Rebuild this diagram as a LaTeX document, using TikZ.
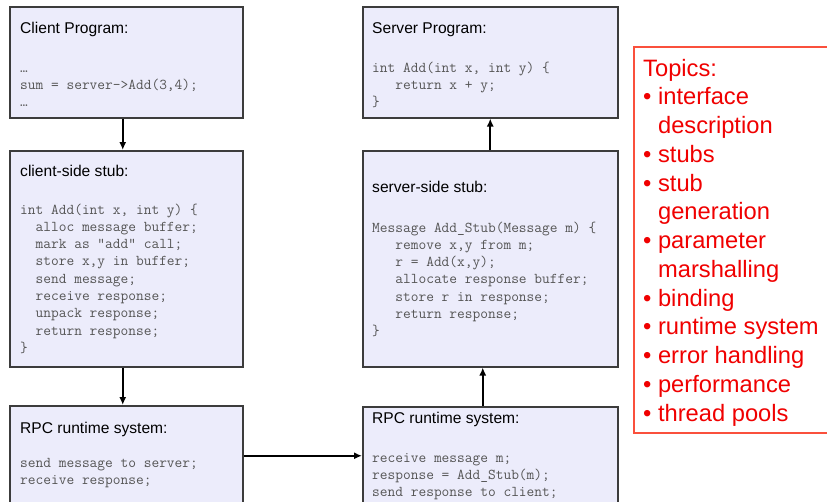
\documentclass[tikz,border=0pt]{standalone}
\usepackage{fontspec}
\setmainfont{Liberation Sans}
\usetikzlibrary{arrows.meta}
\definecolor{boxfill}{RGB}{236,236,251}
\definecolor{boxedge}{RGB}{60,60,60}
\definecolor{codegray}{RGB}{85,85,85}
\definecolor{topicred}{RGB}{240,0,0}
\definecolor{topicedge}{RGB}{250,80,60}
\tikzset{
  box/.style={draw=boxedge, fill=boxfill, line width=1.5pt, anchor=north west, inner sep=0pt},
  title/.style={anchor=base west, inner sep=0pt, font=\fontsize{15.6}{18}\selectfont},
  % base of a code block = baseline of its last line
  code/.style={anchor=base west, inner sep=0pt, align=left, text=codegray,
    font=\ttfamily\fontsize{15}{17.3}\selectfont},
}
\begin{document}
\begin{tikzpicture}[x=1pt,y=-1pt]
  \useasboundingbox (0,0) rectangle (827,501);
  % client side
  \node[box, minimum width=233pt, minimum height=111pt] (cprog) at (9,6) {};
  \node[box, minimum width=233pt, minimum height=216pt] (cstub) at (9,150) {};
  \node[box, minimum width=233pt, minimum height=100pt] (crpc) at (9,405) {};
  \node[title] (cprogT) at (20,33) {Client Program:};
  \node[code] (cprogC) at (20,106.6) {…\\sum = server->Add(3,4);\\…};
  \node[title] (cstubT) at (20,176) {client-side stub:};
  \node[code] (cstubC) at (20,352.4) {int Add(int x, int y) \{\\
    \phantom{xx}alloc message buffer;\\
    \phantom{xx}mark as “add” call;\\
    \phantom{xx}store x,y in buffer;\\
    \phantom{xx}send message;\\
    \phantom{xx}receive response;\\
    \phantom{xx}unpack response;\\
    \phantom{xx}return response;\\
    \}};
  \node[title] (crpcT) at (20,433) {RPC runtime system:};
  \node[code] (crpcC) at (20,484.3) {send message to server;\\receive response;};
  % server side
  \node[box, minimum width=255pt, minimum height=111pt] (sprog) at (362,6) {};
  \node[box, minimum width=255pt, minimum height=216pt] (sstub) at (362,150) {};
  \node[box, minimum width=255pt, minimum height=98pt] (srpc) at (362,406) {};
  \node[title] (sprogT) at (372,33) {Server Program:};
  \node[code] (sprogC) at (372,106.6) {int Add(int x, int y) \{\\
    \phantom{xxx}return x + y;\\
    \}};
  \node[title] (sstubT) at (372,192) {server-side stub:};
  \node[code] (sstubC) at (372,335.8) {Message Add\_Stub(Message m) \{\\
    \phantom{xxx}remove x,y from m;\\
    \phantom{xxx}r = Add(x,y);\\
    \phantom{xxx}allocate response buffer;\\
    \phantom{xxx}store r in response;\\
    \phantom{xxx}return response;\\
    \}};
  \node[title] (srpcT) at (372,423) {RPC runtime system:};
  \node[code] (srpcC) at (372,496.6) {receive message m;\\response = Add\_Stub(m);\\send response to client;};
  % topics
  \node[draw=topicedge, fill=white, line width=1.5pt, anchor=north west,
    minimum width=220pt, minimum height=386pt] (topicbox) at (633,46) {};
  \node[anchor=base west, inner sep=0pt, align=left, text=topicred,
    font=\fontsize{23.7}{28.75}\selectfont] (topics) at (643,421) {Topics:\\
    • interface\\\phantom{• }description\\
    • stubs\\
    • stub\\\phantom{• }generation\\
    • parameter\\\phantom{• }marshalling\\
    • binding\\
    • runtime system\\
    • error handling\\
    • performance\\
    • thread pools};
  \begin{scope}[-{Latex[length=8pt,width=7pt]}, line width=2pt]
    \draw ([xshift=-3.5pt]cprog.south) to ([xshift=-3.5pt]cstub.north);
    \draw ([xshift=-3.5pt]cstub.south) to ([xshift=-3.5pt]crpc.north);
    \draw (crpc) to (srpc);
    \draw ([xshift=-7.5pt]srpc.north) to ([xshift=-7.5pt]sstub.south);
    \draw (sstub) to (sprog);
  \end{scope}
\end{tikzpicture}
\end{document}
